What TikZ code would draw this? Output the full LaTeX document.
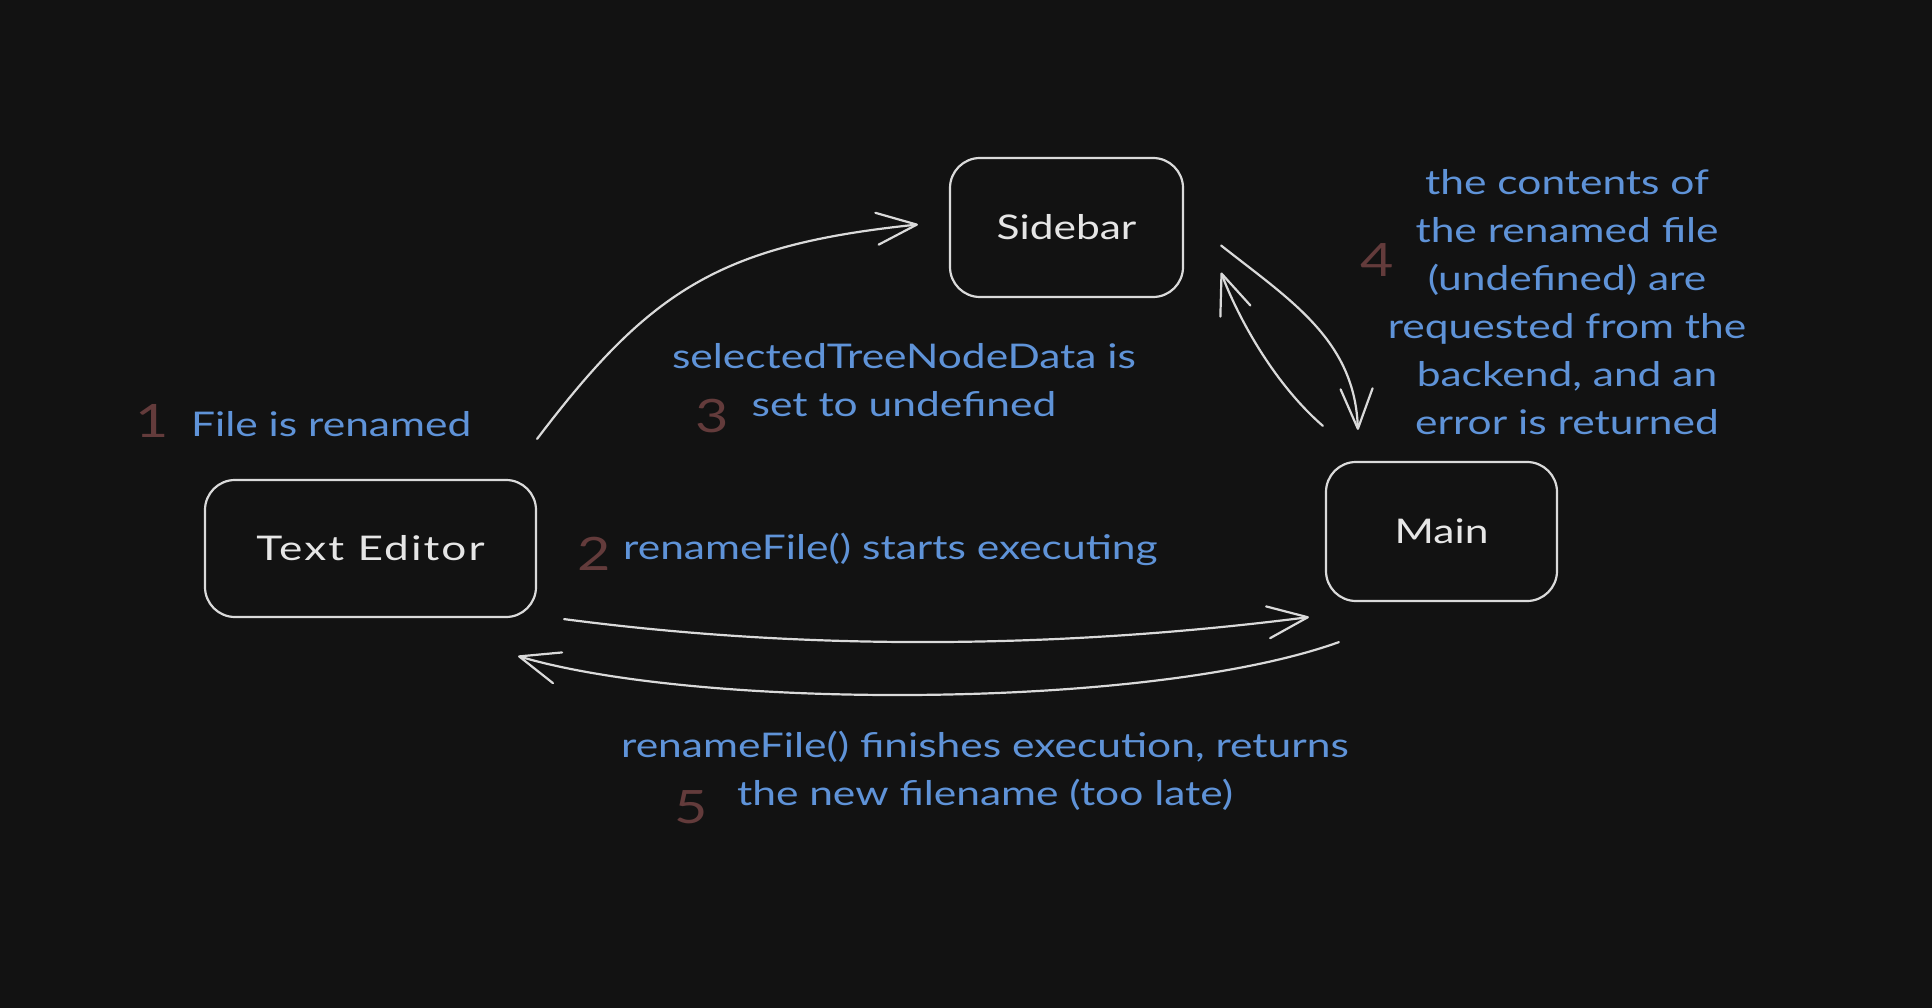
\documentclass[tikz,border=0pt]{standalone}
\usepackage{fontspec}
\setmainfont[FakeStretch=1.25]{Lato}
\newfontfamily\widefont[FakeStretch=1.3,LetterSpace=6]{Lato}
\usetikzlibrary{arrows.meta}
\definecolor{bg}{HTML}{121212}
\definecolor{strokec}{HTML}{DADADA}
\definecolor{boxtxt}{HTML}{E6E6E6}
\definecolor{bluetxt}{HTML}{5F93D8}
\definecolor{numtxt}{HTML}{633B3B}
\begin{document}
\begin{tikzpicture}[x=1pt,y=-1pt,
  boxnode/.style={draw=strokec, line width=2.2pt, rounded corners=30pt, fill=bg,
    text=boxtxt, font=\fontsize{34}{40}\selectfont, inner sep=0pt},
  note/.style={text=bluetxt, font=\fontsize{34}{48}\selectfont, inner sep=0pt},
  num/.style={text=numtxt, font=\fontsize{46}{50}\selectfont, inner sep=0pt},
  conn/.style={draw=strokec, line width=2.2pt, line cap=round,
    -{Straight Barb[length=40pt,width=32pt,line width=2.2pt,round]}}]
\fill[bg] (0,0) rectangle (1932,1008);
\useasboundingbox (0,0) rectangle (1932,1008);

% boxes
\node[boxnode, minimum width=331pt, minimum height=137pt] (te) at (370.5,548.5) {\widefont Text Editor};
\node[boxnode, minimum width=233pt, minimum height=139pt] (sb) at (1066.5,227.5) {Sidebar};
\node[boxnode, minimum width=231pt, minimum height=139pt] (mn) at (1441.5,531.5) {Main};

% labels
\node[num] (n1) at (152,421) {1};
\node[note, anchor=west] (t1) at (191,424) {File is renamed};

\node[num] (n2) at (594,554) {2};
\node[note, anchor=west] (t2) at (623,549) {renameFile() starts executing};

\node[note, align=center] (t3) at (904,380) {selectedTreeNodeData is\\set to undefined};
\node[num] (n3) at (712,416) {3};

\node[num] (n4) at (1377,260) {4};
\node[note, align=center] (t4) at (1567,302.5) {the contents of\\the renamed file\\(undefined) are\\requested from the\\backend, and an\\error is returned};

\node[note, align=center] (t5) at (985,771) {renameFile() finishes execution, returns\\the new filename (too late)};
\node[num] (n5) at (691,807) {5};

% connectors
\draw[conn] ([yshift=40pt]te.north east) .. controls (650,290) and (720,245) .. ([xshift=-31pt,yshift=3pt]sb.west);
\draw[conn] ([xshift=37pt,yshift=-18pt]sb.east) .. controls (1290,300) and (1355,340) .. ([xshift=33pt,yshift=31pt]mn.north west);
\draw[conn] ([xshift=-2pt,yshift=35pt]mn.north west) .. controls (1270,380) and (1235,310) .. ([xshift=37pt,yshift=-45pt]sb.east);
\draw[conn] ([xshift=27pt,yshift=-1pt]te.south east) .. controls (800,650) and (1050,650) .. ([xshift=-16pt,yshift=-15pt]mn.south west);
\draw[conn] ([xshift=14pt,yshift=-40pt]mn.south west) .. controls (1150,710) and (700,710) .. ([xshift=-19pt,yshift=-38pt]te.south east);
\end{tikzpicture}
\end{document}
